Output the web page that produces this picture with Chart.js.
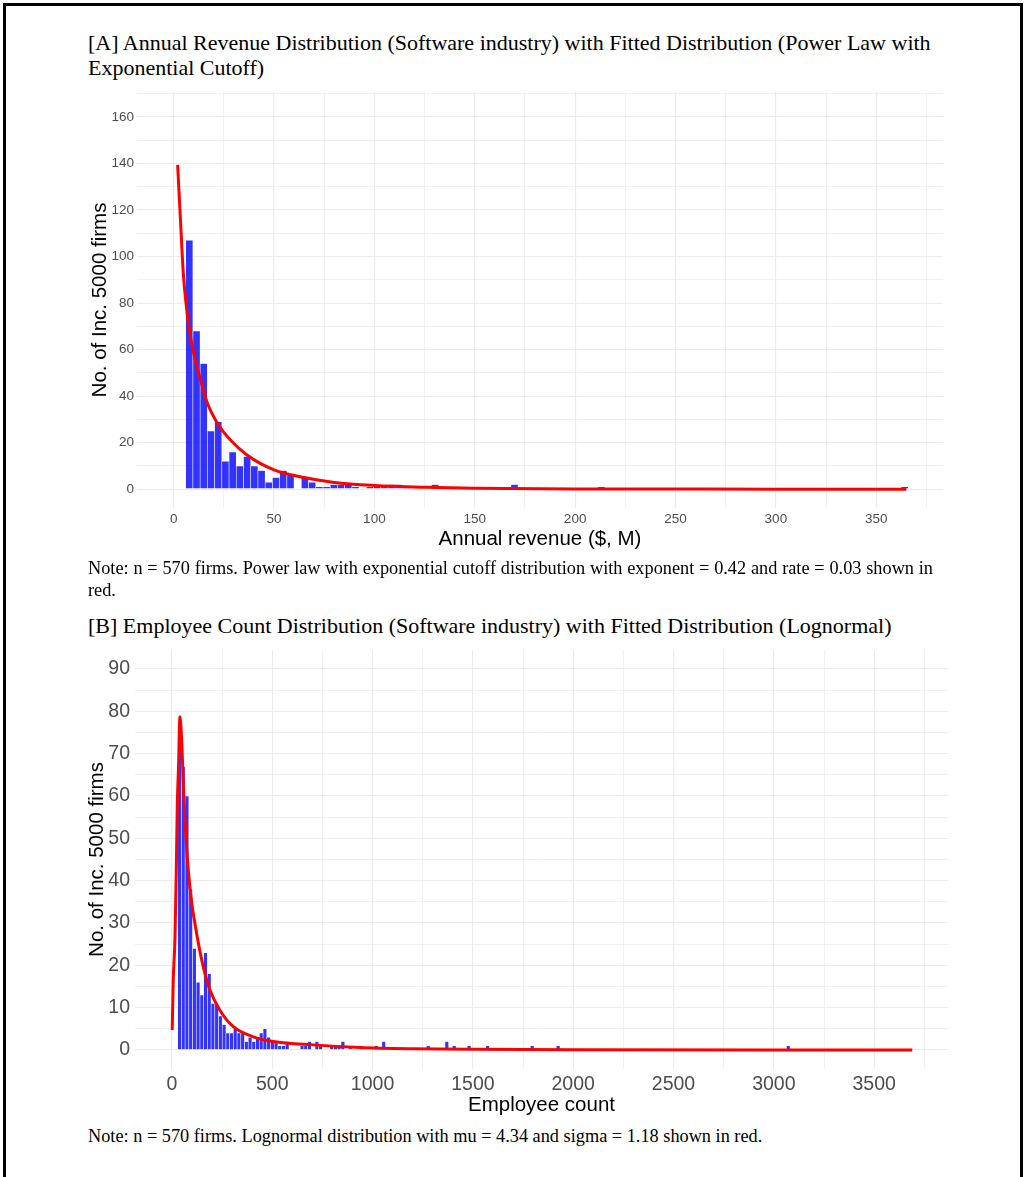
<!DOCTYPE html>
<html>
<head>
<meta charset="utf-8">
<script src="https://cdn.jsdelivr.net/npm/chart.js@4.4.1/dist/chart.umd.min.js"></script>
<style>
  html, body { margin: 0; padding: 0; background: #fff; }
  body { width: 1025px; height: 1177px; position: relative; overflow: hidden; }
  .frame { position: absolute; left: 3px; top: 3px; width: 1014px; height: 1300px; border: 3px solid #000; }
  .cap { position: absolute; left: 88px; width: 845px; font-family: 'Liberation Serif', 'Times New Roman', serif; color: #000; }
  .title { font-size: 22px; line-height: 25px; }
  .note { font-size: 18.3px; line-height: 22px; text-align: justify; }
  canvas { position: absolute; }
</style>
</head>
<body>
<div class="frame"></div>

<div class="cap title" style="top:30px">[A] Annual Revenue Distribution (Software industry) with Fitted Distribution (Power Law with Exponential Cutoff)</div>
<canvas id="chartA" width="900" height="480" style="left:60px; top:80px"></canvas>
<div class="cap note" style="top:557px">Note: n = 570 firms. Power law with exponential cutoff distribution with exponent = 0.42 and rate = 0.03 shown in red.</div>

<div class="cap title" style="top:613px">[B] Employee Count Distribution (Software industry) with Fitted Distribution (Lognormal)</div>
<canvas id="chartB" width="900" height="500" style="left:60px; top:620px"></canvas>
<div class="cap note" style="top:1125px">Note: n = 570 firms. Lognormal distribution with mu = 4.34 and sigma = 1.18 shown in red.</div>

<script>
// ---- Panel A: annual revenue ($, M), histogram bins of width 3.6 ----
const revenueBinMid = [7.8, 11.4, 15.0, 18.6, 22.2, 25.8, 29.4, 33.0, 36.6, 40.2, 43.8, 47.4, 51.0, 54.6, 58.2,
  65.4, 69.0, 72.6, 76.2, 79.8, 83.4, 87.0, 90.6, 97.8, 101.4, 105.0, 108.6, 112.2, 115.8,
  130.2, 169.8, 213.0, 364.2];
const revenueCount = [107, 68, 54, 25, 29, 12, 16, 10, 14, 10, 8, 3, 5, 8, 6,
  5, 3, 1, 1, 2, 2, 2, 1, 1, 1, 1, 2, 2, 1,
  2, 2, 1, 1];
// fitted power law with exponential cutoff (scaled to counts)
const revenueFitX = [2, 3.5, 4.8, 6, 7.6, 10, 13.4, 16.8, 21.8, 28.4, 36.7, 50, 63, 80, 100, 126, 150, 200, 250, 300, 365];
const revenueFitY = [139.4, 114, 93, 81.3, 70, 58.4, 47, 37, 28.3, 21, 14.6, 8.3, 5.3, 2.9, 1.6, 0.8, 0.4, 0.1, 0.05, 0, 0];
const revenueXLabels = [0, 50, 100, 150, 200, 250, 300, 350];
const revenueYLabels = [0, 20, 40, 60, 80, 100, 120, 140, 160];

// ---- Panel B: employee count, histogram bins of width 18.5 ----
const employeeBinMid = [38, 56.5, 75, 93.5, 112, 130.5, 149, 167.5, 186, 204.5, 223, 241.5, 260, 278.5, 297,
  315.5, 334, 352.5, 371, 389.5, 408, 426.5, 445, 463.5, 482, 500.5, 519, 537.5, 556, 574.5,
  648.5, 667, 685.5, 722.5, 741, 796.5, 815, 833.5, 852, 889, 944.5, 1018.5, 1055.5,
  1277.5, 1370, 1407, 1481, 1573.5, 1795.5, 1925, 3072];
const employeeCount = [77, 67, 60, 38, 24, 16, 13, 23, 18, 11, 11, 8, 6, 4, 4,
  5, 4, 4, 2, 3, 2, 3, 4, 5, 3, 2, 2, 1, 1, 2,
  1, 1, 2, 2, 1, 1, 1, 1, 2, 1, 1, 1, 2,
  1, 2, 1, 1, 1, 1, 1, 1];
// fitted lognormal (scaled to counts)
const employeeFitX = [1.5, 6.6, 15, 21.6, 26.6, 33, 40, 50, 60, 73, 93, 123, 156, 189, 239, 306, 405, 505, 704, 937, 1200, 1500, 2000, 3000, 3690];
const employeeFitY = [4.7, 16.5, 26, 41.7, 57.5, 67, 78.7, 71.6, 59, 48, 37, 27.6, 19.7, 14.2, 9.4, 5.5, 3.1, 2.0, 1.2, 0.6, 0.3, 0.15, 0.05, 0, 0];
const employeeXLabels = [0, 500, 1000, 1500, 2000, 2500, 3000, 3500];
const employeeYLabels = [0, 10, 20, 30, 40, 50, 60, 70, 80, 90];

const SANS = "'Liberation Sans', Arial, sans-serif";
const GRID = '#EBEBEB';

function pairs(xs, ys) { return xs.map((x, i) => ({ x: x, y: ys[i] })); }

// major + minor grid positions: every multiple of step inside the axis range
function gridTicks(step) {
  return (scale) => {
    const out = [];
    for (let v = Math.ceil(scale.min / step) * step; v <= scale.max; v += step) out.push({ value: v });
    scale.ticks = out;
  };
}

function histogram(id, o) {
  const gridWidth = (labels) => (ctx) => (ctx.tick && labels.includes(ctx.tick.value)) ? 1.1 : 0.7;
  return new Chart(document.getElementById(id), {
    type: 'bar',
    data: {
      datasets: [
        {
          type: 'line', data: pairs(o.fitX, o.fitY), order: 0,
          borderColor: '#FF0000', borderWidth: 3, pointRadius: 0, fill: false,
          cubicInterpolationMode: 'monotone'
        },
        {
          type: 'bar', data: pairs(o.mids, o.counts), order: 1,
          backgroundColor: 'rgba(0,0,255,0.8)', borderColor: 'rgba(255,255,255,0.75)',
          borderWidth: 0.6, borderSkipped: false, barPercentage: 1, categoryPercentage: 1
        }
      ]
    },
    options: {
      responsive: false, animation: false, events: [],
      layout: { padding: { top: o.padTop, right: o.padRight, left: 0, bottom: 0 } },
      plugins: { legend: { display: false }, tooltip: { enabled: false } },
      scales: {
        x: {
          type: 'linear', min: o.xMin, max: o.xMax, offset: false,
          grid: { color: GRID, lineWidth: gridWidth(o.xLabels), drawTicks: false, offset: false },
          border: { display: false },
          afterBuildTicks: gridTicks(o.xStep),
          ticks: {
            autoSkip: false, maxRotation: 0,
            padding: o.xTickPad, color: '#4D4D4D', font: { family: SANS, size: o.tickSize },
            callback: (v) => o.xLabels.includes(v) ? String(v) : ''
          },
          title: { display: true, text: o.xTitle, color: '#000', font: { family: SANS, size: 20.5 },
                   padding: { top: 0, bottom: o.xTitlePad } },
          afterFit: (s) => { s.height = o.xAxisH; }
        },
        y: {
          type: 'linear', min: o.yMin, max: o.yMax,
          grid: { color: GRID, lineWidth: gridWidth(o.yLabels), drawTicks: false },
          border: { display: false },
          afterBuildTicks: gridTicks(o.yStep),
          ticks: {
            autoSkip: false,
            padding: o.yTickPad, color: '#4D4D4D', font: { family: SANS, size: o.tickSize },
            callback: (v) => o.yLabels.includes(v) ? String(v) : ''
          },
          title: { display: true, text: 'No. of Inc. 5000 firms', color: '#000', font: { family: SANS, size: 20.5 },
                   padding: { top: o.yTitlePad, bottom: 0 } },
          afterFit: (s) => { s.width = o.yAxisW; }
        }
      }
    }
  });
}

histogram('chartA', {
  mids: revenueBinMid, counts: revenueCount, fitX: revenueFitX, fitY: revenueFitY,
  xLabels: revenueXLabels, yLabels: revenueYLabels,
  xMin: -18.25, xMax: 383.25, xStep: 25, yMin: -8.1, yMax: 170.75, yStep: 10,
  xTitle: 'Annual revenue ($, M)', tickSize: 13.5,
  padTop: 12, padRight: 17, xAxisH: 52, yAxisW: 77,
  xTickPad: 3, yTickPad: 3, xTitlePad: 8.7, yTitlePad: 27.7
});

histogram('chartB', {
  mids: employeeBinMid, counts: employeeCount, fitX: employeeFitX, fitY: employeeFitY,
  xLabels: employeeXLabels, yLabels: employeeYLabels,
  xMin: -184, xMax: 3868, xStep: 250, yMin: -4.5, yMax: 94.5, yStep: 5,
  xTitle: 'Employee count', tickSize: 19.5,
  padTop: 30, padRight: 12, xAxisH: 51, yAxisW: 75,
  xTickPad: 3.5, yTickPad: 5, xTitlePad: 2.7, yTitlePad: 24.7
});
</script>
</body>
</html>
